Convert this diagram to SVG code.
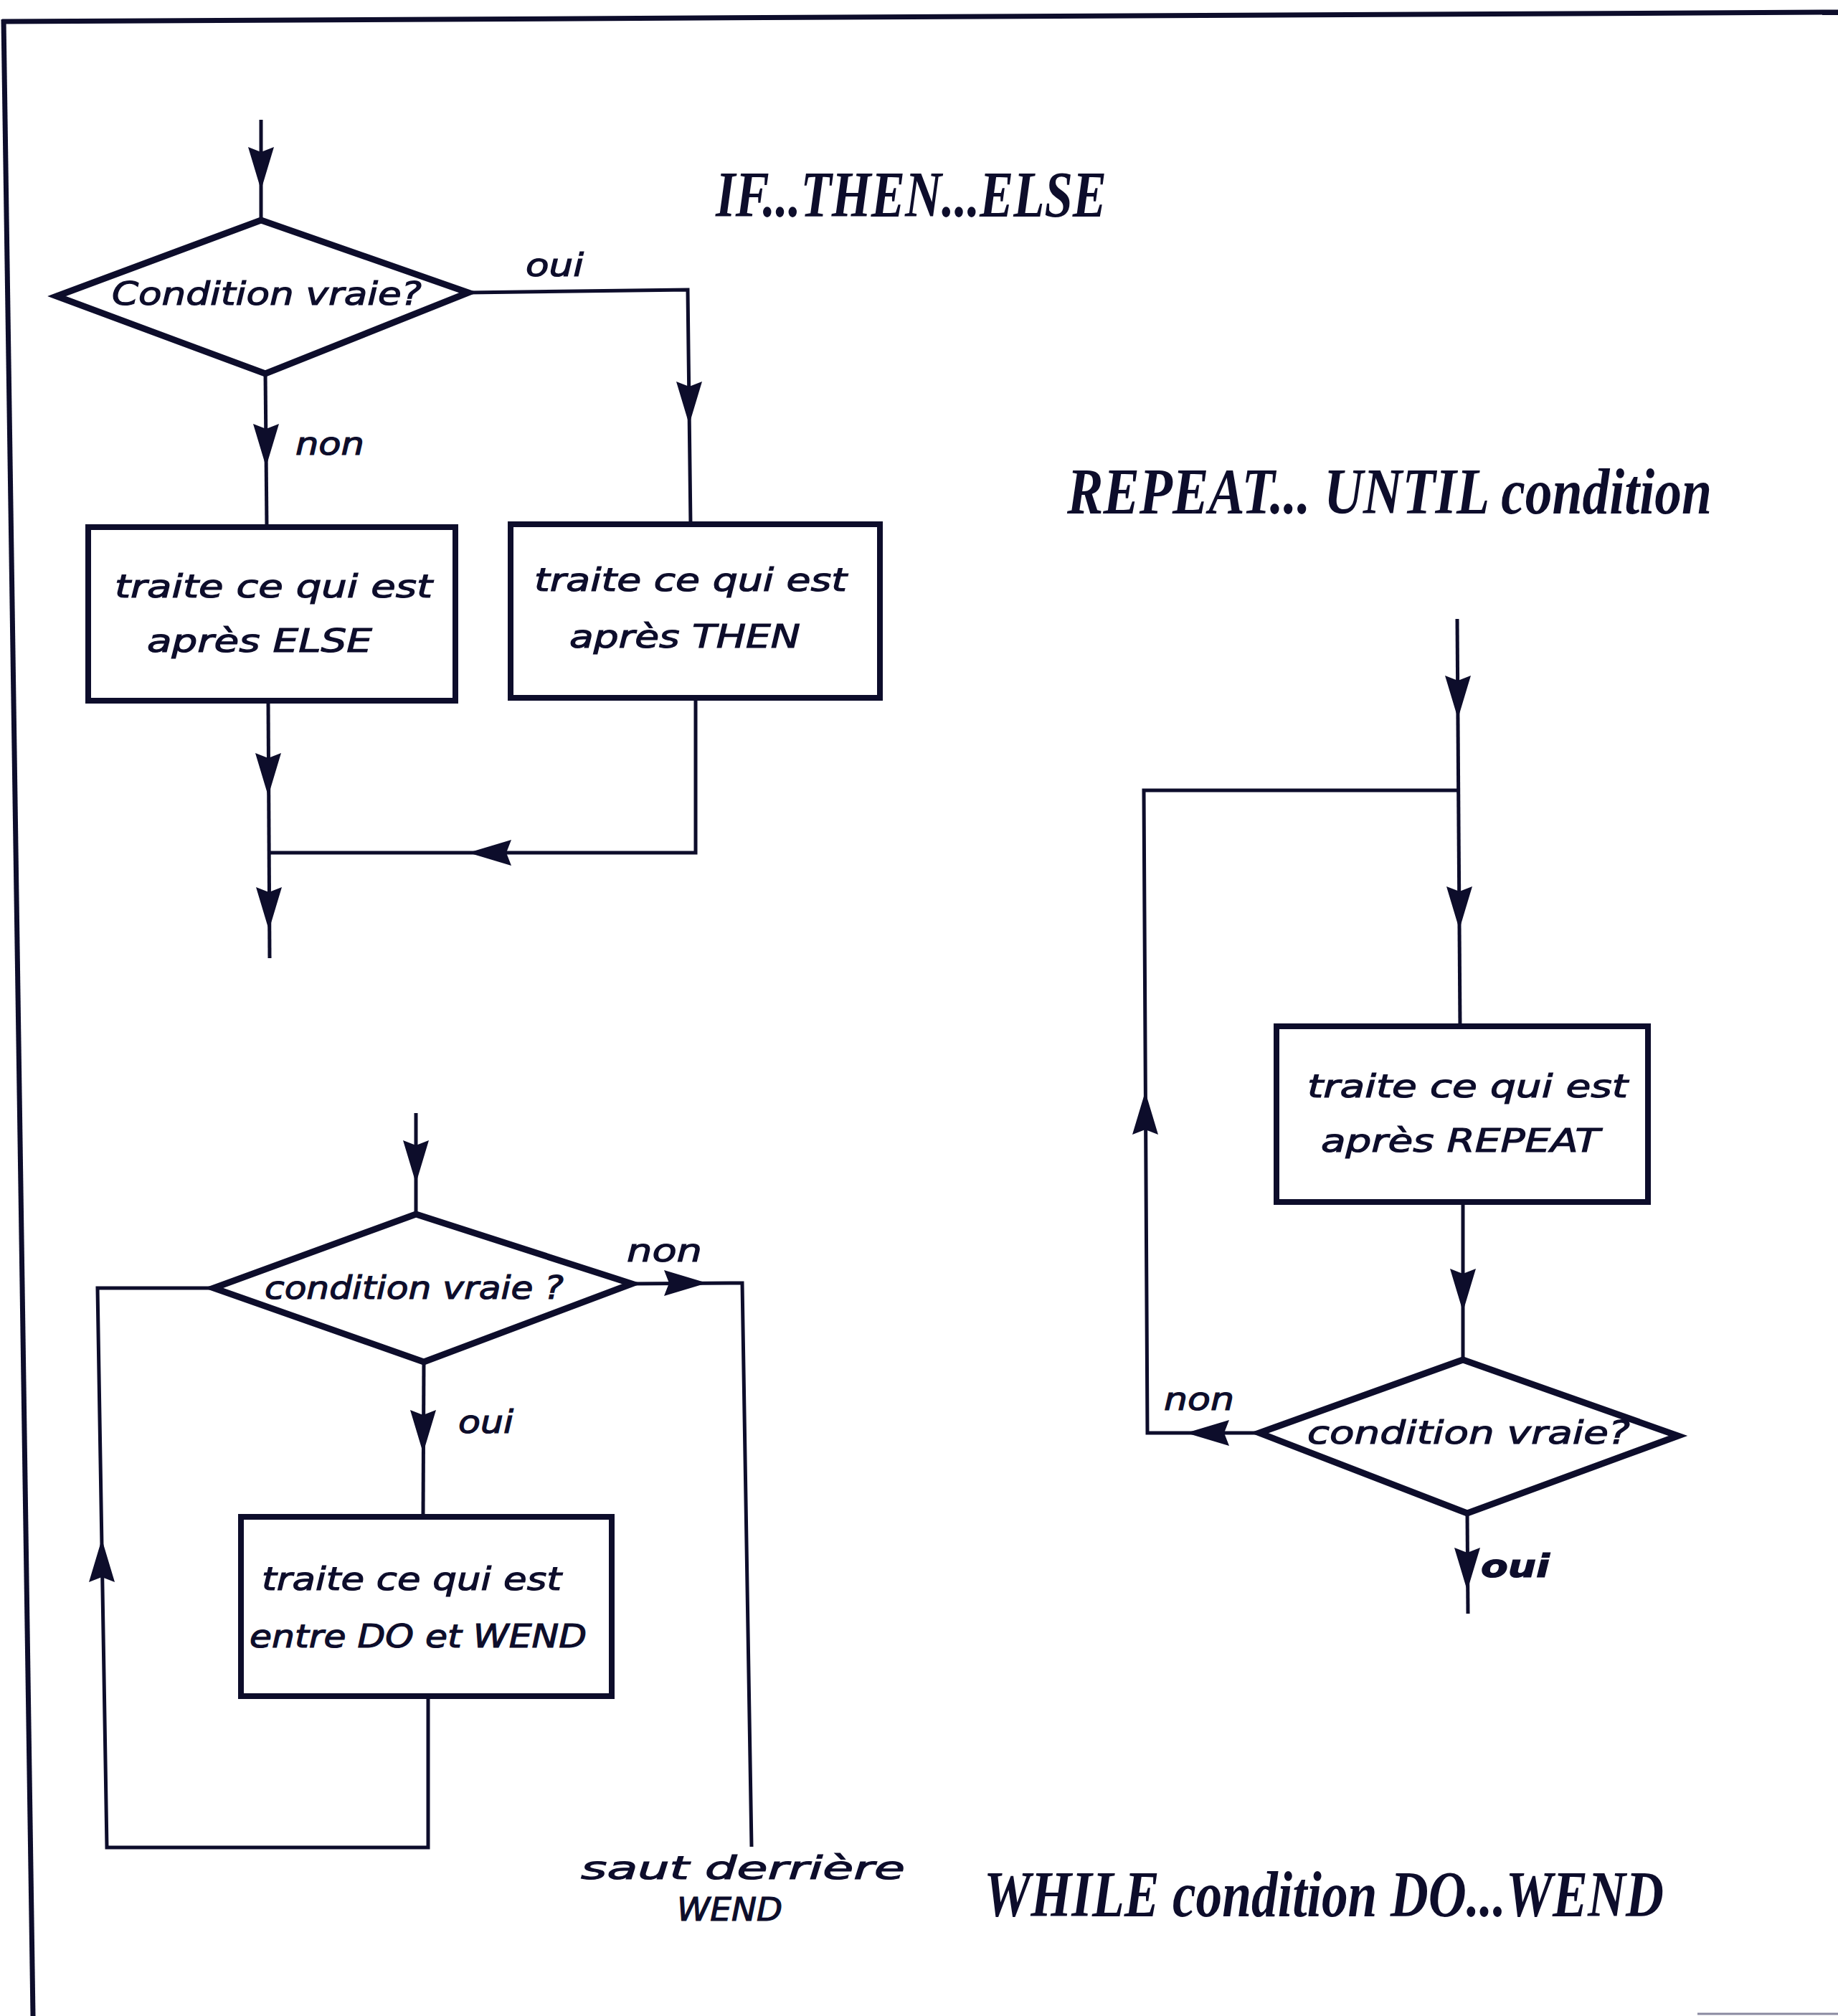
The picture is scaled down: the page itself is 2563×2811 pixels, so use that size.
<svg xmlns="http://www.w3.org/2000/svg" xmlns:xlink="http://www.w3.org/1999/xlink" width="2563" height="2811" viewBox="0 0 2563 2811">
<style>
.node{fill:#ffffff;stroke:#0d0d2b;stroke-width:8;stroke-linejoin:miter}
.dia{stroke-width:9}
.conn{fill:none;stroke:#0d0d2b;stroke-width:5;stroke-linejoin:miter}
.hand{font-family:"DejaVu Sans","Liberation Sans",sans-serif;font-style:italic;fill:#0d0d2b;stroke:#0d0d2b;stroke-width:1.2;font-size:44px}
.title{font-family:"Liberation Serif","DejaVu Serif",serif;font-style:italic;font-weight:bold;fill:#0d0d2b;font-size:90px}
.border{fill:none;stroke:#0d0d2b;stroke-width:7}
</style>
<defs>
<path id="ah" d="M0,0 L-18,-60 L0,-53 L18,-60 Z" fill="#0d0d2b"/>
</defs>
<rect width="2563" height="2811" fill="#ffffff"/>
<g id="frame">
<line class="border" x1="3" y1="30" x2="2563" y2="17"/>
<line class="border" x1="5" y1="27" x2="46" y2="2811"/>
<line x1="2367" y1="2808" x2="2563" y2="2808" stroke="#8a8aa0" stroke-width="3"/>
</g>
<g id="titles">
<text class="title" x="998" y="302" textLength="545" lengthAdjust="spacingAndGlyphs">IF...THEN...ELSE</text>
<text class="title" x="1488" y="716" textLength="899" lengthAdjust="spacingAndGlyphs">REPEAT... UNTIL condition</text>
<text class="title" x="1372" y="2672" textLength="948" lengthAdjust="spacingAndGlyphs">WHILE condition DO...WEND</text>
</g>
<g id="connectors">
<path class="conn" d="M364,167 L364,307"/>
<use xlink:href="#ah" href="#ah" transform="translate(364,265)"/>
<path class="conn" d="M653,408 L959,404 L963,732"/>
<use xlink:href="#ah" href="#ah" transform="translate(961,592)"/>
<text class="hand" x="733" y="385" textLength="81" lengthAdjust="spacingAndGlyphs" font-size="40">oui</text>
<path class="conn" d="M370,521 L372,735"/>
<use xlink:href="#ah" href="#ah" transform="translate(371,651)"/>
<text class="hand" x="412" y="634" textLength="96" lengthAdjust="spacingAndGlyphs" font-size="42">non</text>
<path class="conn" d="M374,979 L376,1336"/>
<use xlink:href="#ah" href="#ah" transform="translate(374,1110)"/>
<use xlink:href="#ah" href="#ah" transform="translate(375,1297)"/>
<path class="conn" d="M970,973 L970,1189 L375,1189"/>
<use xlink:href="#ah" href="#ah" transform="translate(653,1189) rotate(90)"/>

<path class="conn" d="M2032,863 L2036,1431"/>
<use xlink:href="#ah" href="#ah" transform="translate(2033,1002)"/>
<use xlink:href="#ah" href="#ah" transform="translate(2035,1296)"/>
<path class="conn" d="M1756,1998 L1600,1998 L1595,1102 L2033,1102"/>
<use xlink:href="#ah" href="#ah" transform="translate(1654,1998) rotate(90)"/>
<use xlink:href="#ah" href="#ah" transform="translate(1597,1522) rotate(180)"/>
<text class="hand" x="1623" y="1966" textLength="98" lengthAdjust="spacingAndGlyphs" font-size="42">non</text>
<path class="conn" d="M2040,1676 L2040,1896"/>
<use xlink:href="#ah" href="#ah" transform="translate(2040,1829)"/>
<path class="conn" d="M2046,2110 L2047,2250"/>
<use xlink:href="#ah" href="#ah" transform="translate(2046,2218)"/>
<text class="hand" x="2065" y="2199" textLength="96" lengthAdjust="spacingAndGlyphs" font-size="46" font-weight="bold">oui</text>

<path class="conn" d="M580,1552 L580,1693"/>
<use xlink:href="#ah" href="#ah" transform="translate(580,1650)"/>
<path class="conn" d="M880,1790 L1035,1789 L1048,2575"/>
<use xlink:href="#ah" href="#ah" transform="translate(986,1789) rotate(-90)"/>
<text class="hand" x="874" y="1759" textLength="105" lengthAdjust="spacingAndGlyphs" font-size="42">non</text>
<path class="conn" d="M591,1899 L590,2115"/>
<use xlink:href="#ah" href="#ah" transform="translate(590,2026)"/>
<text class="hand" x="639" y="1998" textLength="77" lengthAdjust="spacingAndGlyphs" font-size="40">oui</text>
<path class="conn" d="M597,2365 L597,2576 L149,2576 L136,1796 L298,1796"/>
<use xlink:href="#ah" href="#ah" transform="translate(142,2146) rotate(180)"/>
<text class="hand" x="810" y="2620" textLength="452" lengthAdjust="spacingAndGlyphs" font-size="44">saut derrière</text>
<text class="hand" x="944" y="2678" textLength="147" lengthAdjust="spacingAndGlyphs" font-size="46">WEND</text>
</g>

<g id="if-decision">
<polygon class="node dia" points="79,413 364,307 653,408 370,521"/>
<text class="hand" x="156" y="425" textLength="432" lengthAdjust="spacingAndGlyphs" font-size="42">Condition vraie?</text>
</g>
<g id="if-else">
<rect class="node" x="123" y="735" width="512" height="242"/>
<text class="hand" x="160" y="833" textLength="443" lengthAdjust="spacingAndGlyphs" font-size="46">traite ce qui est</text>
<text class="hand" x="205" y="909" textLength="314" lengthAdjust="spacingAndGlyphs" font-size="46">après ELSE</text>
</g>
<g id="if-then">
<rect class="node" x="712" y="731" width="515" height="242"/>
<text class="hand" x="745" y="824" textLength="436" lengthAdjust="spacingAndGlyphs" font-size="46">traite ce qui est</text>
<text class="hand" x="794" y="903" textLength="322" lengthAdjust="spacingAndGlyphs" font-size="46">après THEN</text>
</g>

<g id="repeat-body">
<rect class="node" x="1780" y="1431" width="518" height="245"/>
<text class="hand" x="1823" y="1530" textLength="447" lengthAdjust="spacingAndGlyphs" font-size="48">traite ce qui est</text>
<text class="hand" x="1842" y="1606" textLength="389" lengthAdjust="spacingAndGlyphs" font-size="48">après REPEAT</text>
</g>
<g id="repeat-decision">
<polygon class="node dia" points="1756,1998 2040,1896 2340,2002 2046,2110"/>
<text class="hand" x="1823" y="2013" textLength="450" lengthAdjust="spacingAndGlyphs" font-size="48">condition vraie?</text>
</g>

<g id="while-decision">
<polygon class="node dia" points="298,1796 580,1693 881,1790 591,1899"/>
<text class="hand" x="369" y="1811" textLength="417" lengthAdjust="spacingAndGlyphs" font-size="44">condition vraie ?</text>
</g>
<g id="while-body">
<rect class="node" x="336" y="2115" width="517" height="250"/>
<text class="hand" x="365" y="2217" textLength="418" lengthAdjust="spacingAndGlyphs" font-size="46">traite ce qui est</text>
<text class="hand" x="348" y="2297" textLength="470" lengthAdjust="spacingAndGlyphs" font-size="46">entre DO et WEND</text>
</g>
</svg>
